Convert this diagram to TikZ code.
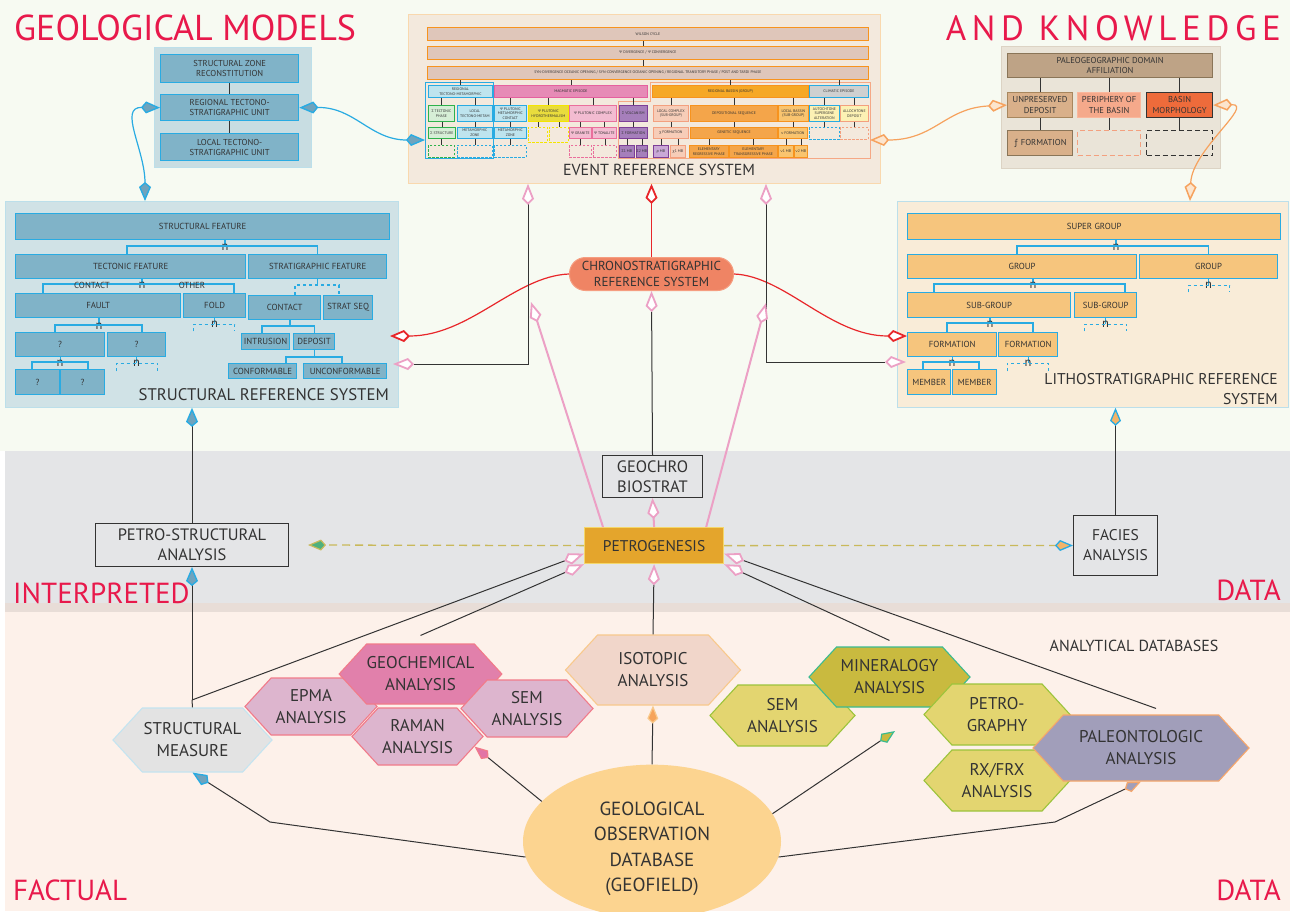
\documentclass[tikz,border=0pt]{standalone}
\usepackage{fontspec}
\setmainfont{PT Sans}
\newfontfamily\grk{Open Sans}
\newfontfamily\wide[LetterSpace=16]{PT Sans}
\usetikzlibrary{arrows.meta,shapes.symbols,shapes.geometric}

\definecolor{topbg}{HTML}{F7FAF2}
\definecolor{midbg}{HTML}{E4E5E7}
\definecolor{sepbg}{HTML}{E8DDD7}
\definecolor{botbg}{HTML}{FDF1EA}
\definecolor{titred}{HTML}{E8194B}
\definecolor{txt}{HTML}{333333}
\definecolor{cyanl}{HTML}{29ABE2}
\definecolor{stfill}{HTML}{80B3C8}
\definecolor{stpanel}{HTML}{D0E2E6}
\definecolor{stpanell}{HTML}{BCDFEA}
\definecolor{lifill}{HTML}{F6C57D}
\definecolor{lipanel}{HTML}{F9ECD8}
\definecolor{mpanel}{HTML}{C8DDE2}
\definecolor{evpanel}{HTML}{F3E9DD}
\definecolor{evpanell}{HTML}{F9D8AE}
\definecolor{evbar}{HTML}{DFC6BA}
\definecolor{orl}{HTML}{F7931E}
\definecolor{orgl}{HTML}{F5A885}
\definecolor{kpanel}{HTML}{EAE4D8}
\definecolor{kpanell}{HTML}{DCD3C4}
\definecolor{cyfill}{HTML}{BEE4EE}
\definecolor{grfill}{HTML}{D6EED6}
\definecolor{grl}{HTML}{2EB24C}
\definecolor{mgfill}{HTML}{E68BB6}
\definecolor{mgl}{HTML}{E5609F}
\definecolor{ylfill}{HTML}{E9DC3D}
\definecolor{yll}{HTML}{F4E500}
\definecolor{lpfill}{HTML}{F3BCD1}
\definecolor{lpl}{HTML}{EA6F9C}
\definecolor{pufill}{HTML}{A67FBB}
\definecolor{pul}{HTML}{7D3F98}
\definecolor{rbfill}{HTML}{F6A826}
\definecolor{safill}{HTML}{F7CDB8}
\definecolor{sal}{HTML}{F3A07F}
\definecolor{dsfill}{HTML}{F4A54A}
\definecolor{lofill}{HTML}{F9C46F}
\definecolor{gyfill}{HTML}{CFD0D0}
\definecolor{lyfill}{HTML}{FCF1B4}
\definecolor{rmfill}{HTML}{C9A8D6}
\definecolor{pdafill}{HTML}{BEA386}
\definecolor{pdal}{HTML}{8A7558}
\definecolor{updfill}{HTML}{D9B08A}
\definecolor{updl}{HTML}{A8875E}
\definecolor{pobfill}{HTML}{F5A98B}
\definecolor{pobl}{HTML}{FAB79C}
\definecolor{bmfill}{HTML}{EE6B3B}
\definecolor{chrfill}{HTML}{EF8464}
\definecolor{chrl}{HTML}{F59D80}
\definecolor{petfill}{HTML}{E4A52C}
\definecolor{petl}{HTML}{F4D76A}
\definecolor{pinkl}{HTML}{ECA0C5}
\definecolor{redl}{HTML}{E8262A}
\definecolor{olive}{HTML}{C9B95B}
\definecolor{smfill}{HTML}{E3E3E3}
\definecolor{smline}{HTML}{C4E4F0}
\definecolor{mafill}{HTML}{DDB5CE}
\definecolor{mal}{HTML}{F17B8A}
\definecolor{gcfill}{HTML}{E180AB}
\definecolor{isfill}{HTML}{F1D6CA}
\definecolor{isl}{HTML}{F8C98C}
\definecolor{syfill}{HTML}{E3D570}
\definecolor{syl}{HTML}{9CC43C}
\definecolor{mnfill}{HTML}{C9BA3F}
\definecolor{mnl}{HTML}{3BBB90}
\definecolor{plfill}{HTML}{A19EBA}
\definecolor{pll}{HTML}{F5A66B}
\definecolor{dbfill}{HTML}{FCD490}
\definecolor{kblue}{HTML}{6FA3BD}
\definecolor{kgreen}{HTML}{4EB17E}
\definecolor{kfac}{HTML}{F2B46A}
\definecolor{kmag}{HTML}{E274A6}
\definecolor{kiso}{HTML}{F6A45B}
\definecolor{kor}{HTML}{F6A25E}
\definecolor{kowf}{HTML}{FCE5CE}

\begin{document}
\begin{tikzpicture}[x=1pt,y=-1pt,
  fs/.style={font={\fontsize{#1}{#1}\selectfont\baselineskip=1.2\baselineskip}},
  wh/.style 2 args={minimum width=#1pt,minimum height=#2pt},
  box/.style={draw,anchor=north west,inner sep=0pt,align=center,text=txt},
  sbox/.style={box,fill=stfill,draw=cyanl,line width=1.3pt,fs=8.8},
  lbox/.style={box,fill=lifill,draw=cyanl,line width=1.3pt,fs=8.8},
  ebox/.style={box,line width=0.8pt,fs=3.8},
  kbox/.style={box,line width=1.2pt,fs=8.6},
  dbox/.style={box,line width=0.9pt,dash pattern=on 2.5pt off 1.5pt},
  panel/.style={draw,anchor=north west,inner sep=0pt,line width=0.8pt},
  gbox/.style={box,draw=txt,line width=1pt,font={\fontsize{16.5}{20}\selectfont}},
  hexa/.style={shape=signal,signal to=east and west,signal pointer angle=95,draw,line width=1.1pt,inner sep=0pt,align=center,text=txt,font={\fontsize{17}{22}\selectfont}},
  title/.style={text=titred,inner sep=0pt,fs=29},
  tree/.style={draw=cyanl,line width=1.3pt},
  nn/.style={text=txt,inner sep=0pt,fs=12.5},
  eln/.style={draw=txt,line width=0.7pt},
  dk/.style={draw=txt,line width=1pt},
  pkl/.style={draw=pinkl,line width=2pt},
  bkite/.tip={Kite[length=19pt,width=12pt,inset=5pt,fill=kblue,color=cyanl,line width=1.4pt]},
  pkite/.tip={Kite[length=21pt,width=12pt,inset=6pt,fill=white,color=pinkl,line width=1.8pt]},
  rkite/.tip={Kite[length=20pt,width=12pt,inset=6pt,fill=white,color=redl,line width=1.8pt]},
  okite/.tip={Kite[length=19pt,width=12pt,inset=5pt,fill=kowf,color=kor,line width=1.5pt]},
  gkite/.tip={Kite[length=18pt,width=11pt,inset=5pt,fill=kgreen,color=olive,line width=1.2pt]},
  fkite/.tip={Kite[length=18pt,width=11pt,inset=5pt,fill=kfac,color=cyanl,line width=1.3pt]},
  mkite/.tip={Kite[length=18pt,width=11pt,inset=5pt,fill=kmag,color=mal,line width=1.2pt]},
  ikite/.tip={Kite[length=18pt,width=11pt,inset=5pt,fill=kiso,color=isl,line width=1.2pt]},
  nkite/.tip={Kite[length=18pt,width=11pt,inset=5pt,fill=mnfill,color=mnl,line width=1.2pt]},
  lkite/.tip={Kite[length=18pt,width=11pt,inset=5pt,fill=plfill,color=pll,line width=1.2pt]}
]
\useasboundingbox (0,0) rectangle (1290,911);

% BANDS
\fill[topbg] (0,0) rectangle (1290,451);
\fill[midbg] (5,451) rectangle (1290,603);
\fill[sepbg] (5,603) rectangle (1290,612);
\fill[botbg] (5,612) rectangle (1290,911);

% TITLES
\node[title,fs=36,anchor=base west] (tgm) at (14,40) {GEOLOGICAL MODELS};
\node[title,fs=35,anchor=base east] (tak) at (1281,40) {\wide AND KNOWLEDGE};
\node[title,anchor=base west] (tin) at (13,603) {INTERPRETED};
\node[title,anchor=base east] (tda) at (1281,600) {DATA};
\node[title,anchor=base west] (tfa) at (13,900) {FACTUAL};
\node[title,anchor=base east] (tdb) at (1281,900) {DATA};

% GEOLOGICAL MODELS
\node[panel,fill=mpanel,draw=stpanell,wh={157}{120}] (mpnl) at (154,47) {};
\node[sbox,fs=8.6,wh={138}{28}] (szr) at (160,54) {STRUCTURAL ZONE\\RECONSTITUTION};
\node[sbox,fs=8.6,wh={138}{26}] (rtsu) at (160,94) {REGIONAL TECTONO-\\STRATIGRAPHIC UNIT};
\node[sbox,fs=8.6,wh={138}{27}] (ltsu) at (160,133) {LOCAL TECTONO-\\STRATIGRAPHIC UNIT};
\draw[dk] (szr) -- (rtsu);
\draw[dk] (rtsu) -- (ltsu);

% EVENT REFERENCE SYSTEM
\node[panel,fill=evpanel,draw=evpanell,wh={472}{169}] (epnl) at (408,14) {};
\node[ebox,fill=evbar,draw=orl,wh={441}{13}] (e1) at (427,27) {WILSON CYCLE};
\node[ebox,fill=evbar,draw=orl,wh={441}{13}] (e2) at (427,46) {{\grk Ψ} DIVERGENCE / {\grk Ψ} CONVERGENCE};
\node[ebox,fill=evbar,draw=orl,wh={441}{13}] (e3) at (427,66) {SYN-DIVERGENCE OCEANIC OPENING / SYN-CONVERGENCE OCEANIC OPENING / REGIONAL TRANSITORY PHASE / POST AND TARDI PHASE};
\node[panel,draw=cyanl,line width=0.9pt,wh={68}{76}] (rtgrp) at (425,82) {};
\draw[orgl,line width=0.9pt] (618,101) -- (650,101) -- (650,82) -- (870,82) -- (870,158) -- (618,158) -- cycle;
\coordinate (oge) at (870,140);
% row 1
\node[ebox,fill=cyfill,draw=cyanl,wh={64}{12}] (rt) at (428,85) {REGIONAL\\TECTONO-METAMORPHIC};
\node[ebox,fill=mgfill,draw=mgl,wh={153}{12}] (mag) at (494,85) {MAGMATIC EPISODE};
\node[ebox,fill=rbfill,draw=orl,wh={156}{12}] (rb) at (652,85) {REGIONAL BASSIN (GROUP)};
\node[ebox,fill=gyfill,draw=cyanl,wh={59}{12}] (cl) at (809,85) {CLIMATIC EPISODE};
% row 2
\node[ebox,fill=grfill,draw=grl,wh={26}{16}] (tp) at (428,105) {{\grk Σ} TECTONIC\\PHASE};
\node[ebox,fill=cyfill,draw=cyanl,wh={35}{16}] (ltm) at (457,105) {LOCAL\\TECTONO-METAM};
\node[ebox,fill=cyfill,draw=cyanl,wh={32}{16}] (pmc) at (494,105) {{\grk Ψ} PLUTONIC\\METAMORPHIC\\CONTACT};
\node[ebox,fill=ylfill,draw=yll,wh={40}{16}] (ph) at (528,105) {{\grk Ψ} PLUTONIC\\HYDROTHERMALISM};
\node[ebox,fill=lpfill,draw=lpl,wh={47}{16}] (pc) at (569,105) {{\grk Ψ} PLUTONIC COMPLEX};
\node[ebox,fill=pufill,draw=pul,wh={28}{16}] (vo) at (619,105) {{\grk Σ} VOLCANISM};
\node[ebox,fill=safill,draw=sal,wh={35}{16}] (lc) at (653,105) {LOCAL COMPLEX\\(SUB-GROUP)};
\node[ebox,fill=dsfill,draw=orl,wh={87}{16}] (ds) at (690,105) {DEPOSITIONAL SEQUENCE};
\node[ebox,fill=lofill,draw=orl,wh={30}{16}] (lb) at (778,105) {LOCAL BASSIN\\(SUB-GROUP)};
\node[ebox,fill=lyfill,draw=cyanl,wh={30}{16}] (au) at (809,105) {AUTOCHTONE\\SUPERGENE\\ALTERATION};
\node[ebox,fill=lyfill,draw=sal,wh={28}{16}] (al) at (840,105) {ALLOCHTONE\\DEPOSIT};
% row 3
\node[ebox,fill=grfill,draw=grl,wh={27}{11}] (stru) at (428,127) {{\grk Σ} STRUCTURE};
\node[ebox,fill=cyfill,draw=cyanl,wh={35}{11}] (mz1) at (457,127) {METAMORPHIC\\ZONE};
\node[ebox,fill=cyfill,draw=cyanl,wh={32}{11}] (mz2) at (494,127) {METAMORPHIC\\ZONE};
\node[dbox,draw=yll,wh={19}{15}] (dy1) at (528,127) {};
\node[dbox,draw=yll,wh={19}{15}] (dy2) at (549,127) {};
\node[ebox,fill=lpfill,draw=lpl,wh={22}{11}] (gran) at (569,127) {{\grk Ψ} GRANITE};
\node[ebox,fill=lpfill,draw=lpl,wh={24}{11}] (tona) at (592,127) {{\grk Ψ} TONALITE};
\node[ebox,fill=pufill,draw=pul,wh={28}{11}] (vf) at (619,127) {{\grk Σ} FORMATION};
\node[ebox,fill=safill,draw=sal,wh={35}{11}] (xf) at (653,127) {{\grk χ} FORMATION};
\node[ebox,fill=dsfill,draw=orl,wh={87}{11}] (gs) at (690,127) {GENETIC SEQUENCE};
\node[ebox,fill=lofill,draw=orl,wh={29}{11}] (nf) at (778,127) {{\grk ν} FORMATION};
\node[dbox,draw=cyanl,wh={30}{12}] (dc) at (809,127) {};
\node[dbox,draw=sal,wh={28}{12}] (dsa) at (840,127) {};
% row 4
\node[dbox,draw=grl,wh={26}{12}] (dg) at (428,145) {};
\node[dbox,draw=cyanl,wh={35}{12}] (dc1) at (457,145) {};
\node[dbox,draw=cyanl,wh={32}{12}] (dc2) at (494,145) {};
\node[dbox,draw=lpl,wh={22}{12}] (dp1) at (569,145) {};
\node[dbox,draw=lpl,wh={23}{12}] (dp2) at (593,145) {};
\node[ebox,fill=pufill,draw=pul,wh={15}{12}] (v1) at (619,145) {{\grk Σ}1 MB};
\node[ebox,fill=pufill,draw=pul,wh={11}{12}] (v2) at (636,145) {{\grk Σ}2 MB};
\node[ebox,fill=rmfill,draw=pul,wh={15}{12}] (rm) at (653,145) {{\grk ρ} MB};
\node[ebox,fill=safill,draw=sal,wh={15}{12}] (x1) at (670,145) {{\grk χ}1 MB};
\node[ebox,fill=dsfill,draw=orl,wh={39}{12}] (er) at (689,145) {ELEMENTARY\\REGRESSIVE PHASE};
\node[ebox,fill=dsfill,draw=orl,wh={48}{12}] (et) at (729,145) {ELEMENTARY\\TRANSGRESSIVE PHASE};
\node[ebox,fill=lofill,draw=orl,wh={15}{12}] (nu1) at (778,145) {{\grk ν}1 MB};
\node[ebox,fill=lofill,draw=orl,wh={13}{12}] (nu2) at (794,145) {{\grk ν}2 MB};
\foreach \a/\b in {e1/e2,e2/e3}
  \draw[eln] (\b.north -| 643,0) -- (\a.south -| 643,0);
\foreach \a/\b in {e3/rt,e3/mag,e3/rb,e3/cl,rt/tp,rt/ltm,mag/pmc,mag/ph,mag/pc,mag/vo,rb/lc,rb/ds,rb/lb,cl/au,cl/al,tp/stru,ltm/mz1,pmc/mz2,ph/dy1,ph/dy2,pc/gran,pc/tona,vo/vf,lc/xf,ds/gs,lb/nf,au/dc,al/dsa,stru/dg,mz1/dc1,mz2/dc2,gran/dp1,tona/dp2,vf/v1,vf/v2,xf/rm,xf/x1,gs/er,gs/et,nf/nu1,nf/nu2}
  \draw[eln] (\b.north) -- (\b.north |- \a.south);
\node[fs=16,text=txt,inner sep=0pt] (ert) at (659,170) {EVENT REFERENCE SYSTEM};

% KNOWLEDGE
\node[panel,fill=kpanel,draw=kpanell,wh={219}{122}] (kpnl) at (1001,46) {};
\node[kbox,fill=pdafill,draw=pdal,wh={205}{24}] (pda) at (1007,53) {PALEOGEOGRAPHIC DOMAIN\\AFFILIATION};
\node[kbox,fill=updfill,draw=updl,wh={65}{25}] (upd) at (1007,92) {UNPRESERVED\\DEPOSIT};
\node[kbox,fill=pobfill,draw=pobl,wh={63}{25}] (pob) at (1077,92) {PERIPHERY OF\\THE BASIN};
\node[kbox,fill=bmfill,draw=txt,wh={66}{25}] (bm) at (1146,92) {BASIN\\MORPHOLOGY};
\node[kbox,fill=updfill,draw=pdal,wh={65}{25}] (ff) at (1007,130) {{\grk ƒ} FORMATION};
\node[dbox,draw=sal,line width=1.2pt,dash pattern=on 5pt off 3pt,wh={63}{25}] (kd1) at (1077,130) {};
\node[dbox,draw=txt,line width=1.2pt,dash pattern=on 5pt off 3pt,wh={66}{25}] (kd2) at (1146,130) {};
\foreach \b in {upd,pob,bm}
  \draw[dk] (\b.north) -- (\b.north |- pda.south);
\draw[dk] (upd) -- (ff);
\draw[dk] (pob) -- (kd1);
\draw[dk] (bm) -- (kd2);

% STRUCTURAL REFERENCE SYSTEM
\node[panel,fill=stpanel,draw=stpanell,wh={393}{206}] (spnl) at (5,201) {};
\node[sbox,wh={374}{26}] (sf) at (15,213) {STRUCTURAL FEATURE};
\node[sbox,wh={230}{24}] (tf) at (15,254) {TECTONIC FEATURE};
\node[sbox,wh={138}{24}] (stf) at (248,254) {STRATIGRAPHIC FEATURE};
\node[sbox,wh={165}{24}] (fault) at (15,293) {FAULT};
\node[sbox,wh={62}{24}] (fold) at (183,293) {FOLD};
\node[sbox,wh={72}{24}] (ctc) at (248,295) {CONTACT};
\node[sbox,wh={49}{24}] (sseq) at (323,295) {STRAT SEQ};
\node[sbox,wh={89}{24}] (q1) at (15,332) {?};
\node[sbox,wh={58}{24}] (q2) at (107,332) {?};
\node[sbox,wh={48}{16}] (intr) at (241,333) {INTRUSION};
\node[sbox,wh={41}{16}] (dep) at (293,333) {DEPOSIT};
\node[sbox,wh={44}{25}] (q3) at (15,369) {?};
\node[sbox,wh={44}{25}] (q4) at (60,369) {?};
\node[sbox,wh={68}{15}] (conf) at (228,363) {CONFORMABLE};
\node[sbox,wh={83}{15}] (unc) at (303,363) {UNCONFORMABLE};
\draw[tree] (sf.south -| 225,0) -- ++(0,7) node[nn] (n1) {n};
\draw[tree] (tf.north -| 127,0) -- ++(0,-8) -| (stf.north);
\draw[tree] (tf.south -| 142,0) -- ++(0,6) node[nn] (n2) {n};
\draw[tree] (fault.north -| 43,0) -- ++(0,-9) -| (fold.north -| 234,0);
\draw[tree] (stf.south) -- ++(0,7);
\draw[tree,dashed] (ctc.north -| 295,0) -- ++(0,-10) -| (sseq.north -| 339,0);
\draw[tree] (fault.south -| 99,0) -- ++(0,8) node[nn] (n3) {n};
\draw[tree] (q1.north -| 55,0) -- ++(0,-7) -| (q2.north -| 142,0);
\draw[tree] (fold.south) -- ++(0,6) node[nn] (n4) {n};
\draw[tree,dashed] (fold.south) ++(-21,13) -- ++(0,-7) -- ++(41,0) -- ++(0,7);
\draw[tree] (ctc.south -| 290,0) -- ++(0,7);
\draw[tree] (intr.north -| 262,0) -- ++(0,-7) -| (dep.north);
\draw[tree] (dep.south) -- ++(0,8);
\draw[tree] (conf.north -| 286,0) -- ++(0,-6) -| (unc.north -| 342,0);
\draw[tree] (q1.south) -- ++(0,6) node[nn] (n5) {n};
\draw[tree] (q3.north -| 32,0) -- ++(0,-7) -| (q4.north -| 88,0);
\draw[tree] (q2.south) -- ++(0,6) node[nn] (n6) {n};
\draw[tree,dashed] (q2.south) ++(-20,14) -- ++(0,-8) -- ++(41,0) -- ++(0,8);
\node[fs=8.8,text=txt,inner sep=0pt] (lcon) at (92,285) {CONTACT};
\node[fs=8.8,text=txt,inner sep=0pt] (loth) at (192,285) {OTHER};
\node[fs=16.8,text=txt,inner sep=0pt,anchor=base east] (srs) at (389,400) {STRUCTURAL REFERENCE SYSTEM};

% LITHOSTRATIGRAPHIC REFERENCE SYSTEM
\node[panel,fill=lipanel,draw=stpanell,wh={391}{206}] (lpnl) at (897,201) {};
\node[lbox,wh={373}{26}] (sg) at (907,213) {SUPER GROUP};
\node[lbox,wh={229}{24}] (g1) at (907,254) {GROUP};
\node[lbox,wh={138}{24}] (g2) at (1139,254) {GROUP};
\node[lbox,wh={163}{25}] (sb1) at (907,292) {SUB-GROUP};
\node[lbox,wh={62}{25}] (sb2) at (1074,292) {SUB-GROUP};
\node[lbox,wh={89}{24}] (f1) at (907,332) {FORMATION};
\node[lbox,wh={59}{24}] (f2) at (998,332) {FORMATION};
\node[lbox,wh={43}{25}] (m1) at (907,369) {MEMBER};
\node[lbox,wh={44}{25}] (m2) at (952,369) {MEMBER};
\draw[tree] (sg.south -| 1116,0) -- ++(0,7) node[nn] (n7) {n};
\draw[tree] (g1.north -| 1017,0) -- ++(0,-8) -| (g2.north);
\draw[tree] (g1.south -| 1033,0) -- ++(0,6) node[nn] (n8) {n};
\draw[tree] (sb1.north -| 934,0) -- ++(0,-8) -| (sb2.north -| 1125,0);
\draw[tree] (g2.south) -- ++(0,6) node[nn] (n9) {n};
\draw[tree,dashed] (g2.south) ++(-20,13) -- ++(0,-7) -- ++(41,0) -- ++(0,7);
\draw[tree] (sb1.south -| 990,0) -- ++(0,6) node[nn] (n10) {n};
\draw[tree] (f1.north -| 947,0) -- ++(0,-9) -| (f2.north -| 1033,0);
\draw[tree] (sb2.south) -- ++(0,6) node[nn] (n11) {n};
\draw[tree,dashed] (sb2.south) ++(-21,13) -- ++(0,-7) -- ++(42,0) -- ++(0,7);
\draw[tree] (f1.south) -- ++(0,6) node[nn] (n12) {n};
\draw[tree] (m1.north -| 923,0) -- ++(0,-7) -| (m2.north -| 979,0);
\draw[tree] (f2.south) -- ++(0,6) node[nn] (n13) {n};
\draw[tree,dashed] (f2.south) ++(-21,14) -- ++(0,-8) -- ++(41,0) -- ++(0,8);
\node[fs=15.6,text=txt,inner sep=0pt,anchor=base east] (lrs1) at (1278,384) {LITHOSTRATIGRAPHIC REFERENCE};
\node[fs=15.6,text=txt,inner sep=0pt,anchor=base east] (lrs2) at (1278,404) {SYSTEM};

% INTERPRETED DATA
\node[box,fill=chrfill,draw=chrl,line width=1pt,rounded corners=16pt,wh={164}{33},fs=13] (chr) at (569,257) {CHRONOSTRATIGRAPHIC\\REFERENCE SYSTEM};
\node[gbox,wh={100}{42}] (geo) at (602,455) {GEOCHRO\\BIOSTRAT};
\node[box,fill=petfill,draw=petl,line width=1.2pt,wh={139}{36},fs=15.5] (petro) at (584,527) {PETROGENESIS};
\node[gbox,wh={193}{43}] (psa) at (95,523) {PETRO-STRUCTURAL\\ANALYSIS};
\node[gbox,wh={84}{60},font={\fontsize{15.5}{20}\selectfont}] (fac) at (1073,515) {FACIES\\ANALYSIS};

% FACTUAL DATA
\node[hexa,fill=smfill,draw=smline,wh={159}{64}] (sm) at (192.5,740) {STRUCTURAL\\MEASURE};
\node[hexa,fill=mafill,draw=mal,wh={132}{57}] (epma) at (311,706.5) {EPMA\\ANALYSIS};
\node[hexa,fill=gcfill,draw=mal,wh={149}{60}] (gch) at (420.5,674) {GEOCHEMICAL\\ANALYSIS};
\node[hexa,fill=mafill,draw=mal,wh={131}{57}] (ram) at (417.5,736.5) {RAMAN\\ANALYSIS};
\node[hexa,fill=mafill,draw=mal,wh={132}{57}] (seml) at (527,708.5) {SEM\\ANALYSIS};
\node[hexa,fill=isfill,draw=isl,wh={175}{70}] (iso) at (653,670) {ISOTOPIC\\ANALYSIS};
\node[hexa,fill=syfill,draw=syl,wh={145}{61}] (semr) at (782.5,715.5) {SEM\\ANALYSIS};
\node[hexa,fill=mnfill,draw=mnl,wh={161}{60}] (mnr) at (889.5,677) {MINERALOGY\\ANALYSIS};
\node[hexa,fill=syfill,draw=syl,wh={146}{61}] (ptg) at (997,714.5) {PETRO-\\GRAPHY};
\node[hexa,fill=syfill,draw=syl,wh={146}{61}] (rx) at (997,780.5) {RX/FRX\\ANALYSIS};
\node[hexa,fill=plfill,draw=pll,wh={216}{66}] (pal) at (1141,748) {PALEONTOLOGIC\\ANALYSIS};
\node[ellipse,fill=dbfill,inner sep=0pt,align=center,text=txt,wh={258}{123},font={\fontsize{19}{25.5}\selectfont}] (db) at (652,841.5) {\rule{0pt}{28pt}GEOLOGICAL\\OBSERVATION\\DATABASE\\(GEOFIELD)};
\node[fs=16,text=txt,inner sep=0pt] (adb) at (1134,646) {ANALYTICAL DATABASES};

% CONNECTORS
\draw[cyanl,line width=1.2pt,bkite-bkite] (rtsu.west) .. controls (118,107) and (145,150) .. (spnl.north -| 145,0);
\draw[cyanl,line width=1.2pt,bkite-bkite] (rtsu.east) .. controls (355,107) and (370,140) .. (rtgrp.west |- 0,140);
\draw[kor,line width=1.2pt,okite-okite] (oge) .. controls (935,140) and (945,108) .. (upd.west);
\draw[kor,line width=1.2pt,okite-okite] (bm.east) .. controls (1255,104) and (1192,150) .. (lpnl.north -| 1190,0);
\draw[redl,line width=1.2pt,-rkite] (chr.north) -- (chr.north |- epnl.south);
\coordinate (rin) at (390,336);
\draw[redl,line width=1.2pt,-rkite] (chr.west) .. controls (515,276) and (470,336) .. (rin);
\draw[redl,line width=1.2pt,-rkite] (chr.east) .. controls (785,276) and (830,336) .. (f1.west |- 0,336);
\coordinate (uin) at (393,364);
\coordinate (mbin) at (906,362);
\draw[dk,pkite-pkite] (epnl.south -| 528,0) |- (uin);
\draw[dk,pkite-pkite] (epnl.south -| 766,0) |- (mbin);
\coordinate (pl) at (531,302);
\coordinate (pr) at (766,303);
\draw[pkl,-pkite] ([xshift=19pt]petro.north west) -- (pl);
\draw[pkl,-pkite] ([xshift=-18pt]petro.north east) -- (pr);
\draw[pkl,-pkite] (petro.north) -- (geo.south);
\draw[dk,-pkite] (geo.north) -- (chr.south);
\draw[olive,line width=1.3pt,dash pattern=on 8pt off 5pt,-gkite] (petro.west) -- ([xshift=19pt]psa.east);
\draw[olive,line width=1.3pt,dash pattern=on 8pt off 5pt,-fkite] (petro.east) -- (fac.west);
\draw[dk,-bkite] (psa.north) -- (psa.north |- spnl.south);
\draw[dk,-fkite] (fac.north) -- (fac.north |- lpnl.south);
\coordinate (jsm) at (192,700);
\draw[dk] (sm.north) -- (jsm);
\draw[dk,-bkite] (jsm) -- (psa.south);
\draw[dk,-pkite] (jsm) -- ([yshift=-8pt]petro.west);
\draw[dk,-pkite] ([yshift=8pt]gch.north) -- (petro.south west);
\draw[dk,-pkite] (iso.north) -- (petro.south);
\draw[dk,-pkite] ([yshift=6pt]mnr.north) -- (petro.south east);
\draw[dk,-pkite] ([xshift=15pt,yshift=6pt]pal.north) -- ([yshift=-8pt]petro.east);
\draw[dk,-bkite] (db.187) -- (270,822) -- (sm.south);
\draw[dk,-mkite] (db.160) -- (ram.-10);
\draw[dk,-ikite] (db.north) -- (iso.south);
\coordinate (mk) at (895,731);
\draw[dk,-nkite] (db.13) -- (mk);
\draw[dk,-lkite] (db.353) -- (1055,822) -- (pal.south);
\end{tikzpicture}
\end{document}
